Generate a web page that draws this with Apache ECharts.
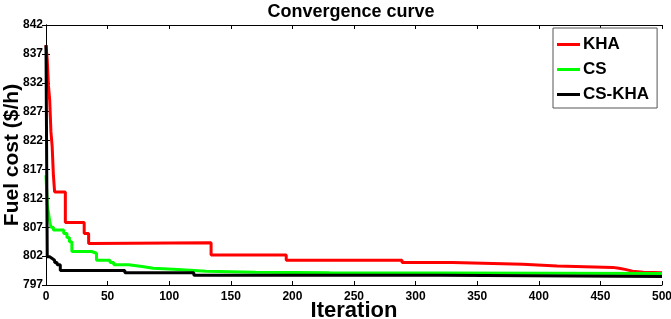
<!DOCTYPE html>
<html><head><meta charset="utf-8">
<script src="https://cdn.jsdelivr.net/npm/echarts@6/dist/echarts.min.js"></script>
<style>html,body{margin:0;padding:0;background:#fff}#c{width:671px;height:319px}</style>
</head><body><div id="c"></div>
<script>
const seriesNames = ['KHA', 'CS', 'CS-KHA'];
const khaIter = [0,1,2,3,4,5,6,7,15.7,31,34.6,36.8,134,195,289,330,387,415,460,465,470,476,485,500];
const khaCost = [838.5,836,831.5,829,823.5,821,816,813.1,807.8,805.9,804.2,804.3,802.2,801.3,800.9,800.6,800.3,800.05,799.9,799.7,799.4,799.2,799.1,799.0];
const csIter = [0,1,2,3,4,6,14.4,17,19,21,37,41,52,55,67,78,87,107,130,170,230,500];
const csCost = [816,811,809.5,808,807,806.5,805.9,805.2,804.5,802.8,802.5,801.3,800.9,800.5,800.2,799.9,799.7,799.4,799.2,799.1,799.0,798.9];
const hybIter = [0,1,3,5,7,9,11.6,64,120,320,500];
const hybCost = [838.5,801.9,801.6,801.3,800.9,800.5,799.5,799.1,798.7,798.45,798.4];
const xTicks = {min: 0, max: 500, interval: 50};
const yTicks = {min: 797, max: 842, interval: 5};
const colors = ['#ff0000', '#00ff00', '#000000'];

const pairs = (xs, ys) => xs.map((x, i) => [x, ys[i]]);
const font = 'Liberation Sans, Arial, sans-serif';
const chart = echarts.init(document.getElementById('c'));
const baseAxis = {
  axisLine: {show: true, lineStyle: {color: '#000', width: 1}},
  axisTick: {show: true, inside: true, length: 4, lineStyle: {color: '#000'}},
  splitLine: {show: false}
};
chart.setOption({
  animation: false,
  backgroundColor: '#fff',
  title: {text: 'Convergence curve', left: 346, textAlign: 'center', top: -2,
    textStyle: {fontFamily: font, fontWeight: 'bold', fontSize: 18, color: '#000'}},
  grid: {left: 46, right: 9, top: 25, bottom: 34, show: false, outerBoundsMode: 'none', containLabel: false},
  legend: {
    data: seriesNames, orient: 'vertical', left: 553, top: 28,
    icon: 'rect', itemWidth: 23, itemHeight: 3, itemGap: 8,
    padding: [8, 8, 5, 4], borderColor: '#555', borderWidth: 1, backgroundColor: '#fff',
    textStyle: {fontFamily: font, fontWeight: 'bold', fontSize: 17, lineHeight: 17, color: '#000', padding: [0,0,0,-2]}
  },
  xAxis: [
    Object.assign({type: 'value', position: 'bottom', name: 'Iteration', nameLocation: 'middle', nameGap: 15,
      nameMoveOverlap: false,
      nameTextStyle: {fontFamily: font, fontWeight: 'bold', fontSize: 22, color: '#000'},
      axisLabel: {fontFamily: font, fontWeight: 'bold', fontSize: 12, color: '#000', margin: 6}}, xTicks, baseAxis),
    Object.assign({type: 'value', position: 'top', axisLabel: {show: false}}, xTicks, baseAxis)
  ],
  yAxis: [
    Object.assign({type: 'value', position: 'left', name: 'Fuel cost ($/h)', nameLocation: 'middle', nameGap: 23,
      nameMoveOverlap: false,
      nameTextStyle: {fontFamily: font, fontWeight: 'bold', fontSize: 21, color: '#000'},
      axisLabel: {fontFamily: font, fontWeight: 'bold', fontSize: 12, color: '#000', margin: 3}}, yTicks, baseAxis),
    Object.assign({type: 'value', position: 'right', axisLabel: {show: false}}, yTicks, baseAxis)
  ],
  series: [
    {name: seriesNames[0], type: 'line', step: 'end', symbol: 'none', data: pairs(khaIter, khaCost),
      lineStyle: {color: colors[0], width: 3}, itemStyle: {color: colors[0]}, z: 3},
    {name: seriesNames[1], type: 'line', step: 'end', symbol: 'none', data: pairs(csIter, csCost),
      lineStyle: {color: colors[1], width: 3}, itemStyle: {color: colors[1]}, z: 4},
    {name: seriesNames[2], type: 'line', step: 'end', symbol: 'none', data: pairs(hybIter, hybCost),
      lineStyle: {color: colors[2], width: 3}, itemStyle: {color: colors[2]}, z: 5}
  ]
});
</script></body></html>
